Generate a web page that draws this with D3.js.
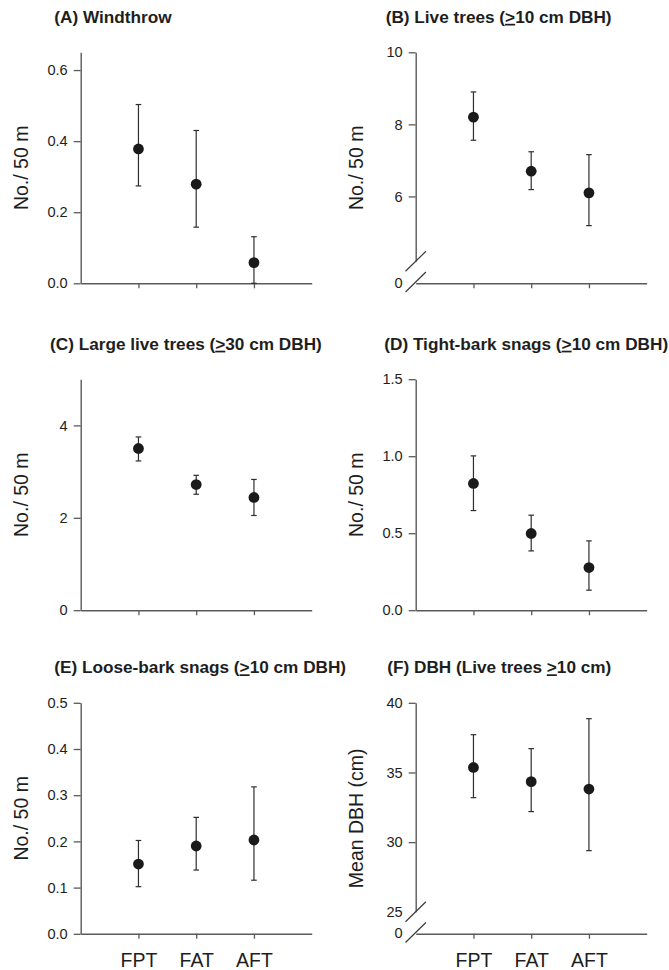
<!DOCTYPE html>
<html>
<head>
<meta charset="utf-8">
<script src="https://cdn.jsdelivr.net/npm/d3@7"></script>
<style>
  html, body { margin: 0; padding: 0; background: #fff; }
  svg { display: block; }
  text { font-family: "Liberation Sans", Arial, Helvetica, sans-serif; fill: #1e1e1e; }
</style>
</head>
<body>
<script>
// Stand structure by treatment: mean with error bars
const groups = ["FPT", "FAT", "AFT"];

const windthrowMean = [0.378, 0.279, 0.058];
const windthrowHigh = [0.503, 0.430, 0.131];
const windthrowLow  = [0.274, 0.158, 0.0];
const windthrowTicks = [0, 0.2, 0.4, 0.6];

const liveMean = [8.20, 6.70, 6.10];
const liveHigh = [8.90, 7.24, 7.16];
const liveLow  = [7.56, 6.19, 5.19];
const liveTicks = [6, 8, 10];

const largeMean = [3.50, 2.72, 2.44];
const largeHigh = [3.75, 2.92, 2.83];
const largeLow  = [3.23, 2.51, 2.05];
const largeTicks = [0, 2, 4];

const tightMean = [0.823, 0.498, 0.277];
const tightHigh = [1.002, 0.617, 0.450];
const tightLow  = [0.647, 0.385, 0.130];
const tightTicks = [0, 0.5, 1.0, 1.5];

const looseMean = [0.151, 0.190, 0.203];
const looseHigh = [0.202, 0.252, 0.318];
const looseLow  = [0.102, 0.138, 0.116];
const looseTicks = [0, 0.1, 0.2, 0.3, 0.4, 0.5];

const dbhMean = [35.36, 34.34, 33.81];
const dbhHigh = [37.71, 36.71, 38.86];
const dbhLow  = [33.19, 32.19, 29.39];
const dbhTicks = [25, 30, 35, 40];

// Axis ranges: [low, high]; a low above zero means the axis is broken
const yRanges = [[0, 0.65], [4.2, 10], [0, 5], [0, 1.5], [0, 0.5], [25, 40]];

// Titles: text before the underlined ">", the symbol, text after it
const titleHead = ["(A) Windthrow", "(B) Live trees (", "(C) Large live trees (", "(D) Tight-bark snags (", "(E) Loose-bark snags (", "(F) DBH (Live trees "];
const titleSym  = ["", ">", ">", ">", ">", ">"];
const titleTail = ["", "10 cm DBH)", "30 cm DBH)", "10 cm DBH)", "10 cm DBH)", "10 cm)"];
const yTitles = ["No./ 50 m", "No./ 50 m", "No./ 50 m", "No./ 50 m", "No./ 50 m", "Mean DBH (cm)"];

const panelData = [
  { mean: windthrowMean, high: windthrowHigh, low: windthrowLow, ticks: windthrowTicks, fmt: d3.format(".1f") },
  { mean: liveMean, high: liveHigh, low: liveLow, ticks: liveTicks, fmt: d3.format("d") },
  { mean: largeMean, high: largeHigh, low: largeLow, ticks: largeTicks, fmt: d3.format("d") },
  { mean: tightMean, high: tightHigh, low: tightLow, ticks: tightTicks, fmt: d3.format(".1f") },
  { mean: looseMean, high: looseHigh, low: looseLow, ticks: looseTicks, fmt: d3.format(".1f") },
  { mean: dbhMean, high: dbhHigh, low: dbhLow, ticks: dbhTicks, fmt: d3.format("d") }
];

// Layout
const W = 669, H = 970;
const colX = [80.7, 415.7];
const rowY = [52.3, 379.2, 702.8];
const titleX = [54.3, 385.7, 50, 384.3, 54.3, 387.3];
const size = 231;
const breakGap = 22;
const axisColor = "#5a5a5a";
const tickFont = 14.6;

const svg = d3.select("body").append("svg").attr("width", W).attr("height", H);

panelData.forEach((p, i) => {
  const ax = colX[i % 2];
  const row = Math.floor(i / 2);
  const top = rowY[row];
  const [lo, hi] = yRanges[i];
  const broken = lo > 0;
  const yBottom = broken ? size - breakGap : size;

  const g = svg.append("g").attr("transform", `translate(${ax},${top})`);

  const x = d3.scaleLinear().domain([0, 4]).range([0, size]);
  const y = d3.scaleLinear().domain([lo, hi]).range([yBottom, 0]);

  // Title
  const t = svg.append("text")
    .attr("x", titleX[i]).attr("y", top - 29.5)
    .attr("font-size", 17.2).attr("font-weight", "bold");
  t.append("tspan").text(titleHead[i]);
  if (titleSym[i]) {
    t.append("tspan").attr("text-decoration", "underline").text(titleSym[i]);
    t.append("tspan").text(titleTail[i]);
  }

  // Y axis
  const ya = g.append("g")
    .call(d3.axisLeft(y).tickValues(p.ticks).tickSize(7).tickSizeOuter(0).tickPadding(6).tickFormat(p.fmt));
  ya.select(".domain").attr("stroke", axisColor).attr("stroke-width", 1.4);
  ya.selectAll(".tick line").attr("stroke", axisColor).attr("stroke-width", 1.3);
  ya.selectAll(".tick text").attr("font-size", tickFont).style("font-family", "Liberation Sans, Arial, sans-serif").attr("fill", "#1e1e1e");
  if (broken) {
    ya.selectAll(".tick").filter(d => d === lo).select("line").remove();
    // zero label at the baseline
    g.append("text")
      .attr("x", -13).attr("y", size).attr("dy", "0.32em")
      .attr("text-anchor", "end").attr("font-size", tickFont)
      .text("0");
    // axis break marks
    const slash = (cy) => g.append("line")
      .attr("x1", -10.2).attr("y1", cy + 10)
      .attr("x2", 10.2).attr("y2", cy - 10)
      .attr("stroke", "#3a3a3a").attr("stroke-width", 1.2);
    slash(yBottom);
    slash(size - 1.3);
  }

  // X axis
  const bottomRow = row === 2;
  const xa = g.append("g").attr("transform", `translate(0,${size})`)
    .call(d3.axisBottom(x).tickValues([1, 2, 3]).tickSize(5).tickSizeOuter(0)
      .tickFormat((d, k) => bottomRow ? groups[k] : ""));
  xa.select(".domain").attr("stroke", axisColor).attr("stroke-width", 1.4);
  xa.selectAll(".tick line").attr("stroke", axisColor).attr("stroke-width", 1.3);
  xa.selectAll(".tick text")
    .attr("font-size", 19.5).attr("y", 33).attr("dy", null)
    .style("font-family", "Liberation Sans, Arial, sans-serif").attr("fill", "#1e1e1e");

  // Y axis title
  g.append("text")
    .attr("transform", `translate(-53,${size / 2}) rotate(-90)`)
    .attr("text-anchor", "middle").attr("font-size", 19.5)
    .text(yTitles[i]);

  // Error bars and means
  const pts = groups.map((grp, k) => ({ k: k + 1, m: p.mean[k], h: p.high[k], l: p.low[k] }));
  const eb = g.append("g").attr("stroke", "#2e2e2e").attr("stroke-width", 1.2);
  eb.selectAll("line.v").data(pts).join("line").attr("class", "v")
    .attr("x1", d => x(d.k)).attr("x2", d => x(d.k))
    .attr("y1", d => y(d.h)).attr("y2", d => y(d.l));
  eb.selectAll("line.ch").data(pts).join("line").attr("class", "ch")
    .attr("x1", d => x(d.k) - 2.8).attr("x2", d => x(d.k) + 2.8)
    .attr("y1", d => y(d.h)).attr("y2", d => y(d.h));
  eb.selectAll("line.cl").data(pts).join("line").attr("class", "cl")
    .attr("x1", d => x(d.k) - 2.8).attr("x2", d => x(d.k) + 2.8)
    .attr("y1", d => y(d.l)).attr("y2", d => y(d.l));
  g.selectAll("circle").data(pts).join("circle")
    .attr("cx", d => x(d.k)).attr("cy", d => y(d.m)).attr("r", 5.4)
    .attr("fill", "#1a1a1a");
});
</script>
</body>
</html>
